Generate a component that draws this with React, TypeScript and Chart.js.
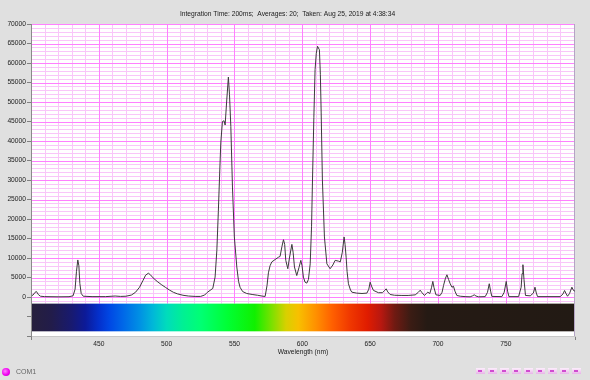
import React, { useEffect, useRef } from 'react';
import { Chart, registerables } from 'chart.js';

Chart.register(...registerables);

const titleText = 'Integration Time: 200ms;  Averages: 20;  Taken: Aug 25, 2019 at 4:38:34';
const xAxisTitle = 'Wavelength (nm)';
const portLabel = 'COM1';

const wavelengthNm = [
  400, 401.5, 403, 404, 405.5, 407, 410, 420, 428, 431, 432.5, 433.5, 434.5, 435.3, 436, 437, 438.5,
  445, 455, 462, 466, 470, 474, 477, 480, 482.5, 484.5, 486.5, 488, 490, 493, 496, 499, 502, 505, 508,
  512, 516, 521, 525, 528, 530, 532, 534, 535.7, 537, 538.1, 539, 539.9, 541.1, 542.3, 543.1, 544.2,
  545.5, 546.3, 547.3, 548.5, 549.9, 551.7, 553, 554.1, 556, 559, 563, 567, 571, 572.6, 574, 575,
  576.2, 577.5, 579.9, 582.4, 583.6, 585, 586.1, 587, 587.8, 589.3, 590.5, 592.3, 593.2, 594.2, 595.9,
  597.5, 598.9, 599.8, 600.8, 602, 603.3, 604.5, 605.8, 606.8, 607.5, 608.5, 609.4, 610.3, 611.2,
  612.6, 613.3, 613.9, 614.8, 616.3, 618.1, 620.5, 622.5, 624.2, 626.6, 628, 629.5, 630.8, 631.5,
  632.3, 633, 634, 635.5, 636.5, 640, 644, 647.6, 649, 650, 651, 652.4, 656.1, 659, 660.5, 661.8, 663,
  664.7, 668, 673.4, 678, 683.2, 685.5, 686.9, 688, 690, 691.5, 692.5, 694, 695.3, 696.2, 697, 698.5,
  701.6, 703, 704.1, 705.5, 706.6, 707.8, 709, 710.3, 711.4, 712.5, 713.9, 716.4, 720, 723.7, 725.5,
  726.7, 728, 729.9, 734.8, 736.5, 737.8, 738.8, 739.7, 747.1, 748.8, 750.3, 751.3, 752.3, 759.4,
  761.3, 762, 762.6, 763.4, 764.5, 768, 770.3, 771.5, 772.5, 773.4, 790.1, 792.2, 793.3, 794.5, 795.5,
  797, 798.7, 799.9, 801,
];

const intensityCounts = [
  300, 500, 1200, 1400, 600, 200, 100, 50, 80, 300, 2000, 6500, 9500, 8000, 3500, 900, 200,
  100, 100, 250, 150, 200, 500, 1200, 2500, 4200, 5600, 6100, 5700, 4900, 4000, 3200, 2500, 1800, 1200, 800,
  450, 250, 150, 150, 500, 1200, 1700, 2200, 5100, 12000, 22000, 31000, 39500, 45000, 45200, 44100, 50000,
  56400, 52000, 43700, 28200, 15400, 7700, 4000, 2500, 1400, 900, 650, 450, 200, 150, 3000, 6200,
  8000, 9000, 9600, 10200, 10400, 13000, 14700, 13500, 9400, 7250, 10000, 13500, 11500, 7700, 5500,
  7500, 9400, 8000, 5100, 3800, 3560, 4500, 8500, 18000, 30000, 46000, 58300, 62500, 64300,
  63400, 57000, 47200, 30000, 15400, 8500, 7250, 8200, 9400, 9200, 9000, 11500, 15400, 13500,
  10200, 6500, 3400, 1800, 1240, 1000, 900, 1000, 2000, 3800, 2800, 1700, 1100, 1100, 1600, 2100, 1300,
  650, 450, 400, 400, 550, 1200, 1750, 1200, 400, 900, 1240, 900, 2500, 4000, 2500, 560,
  400, 1200, 2960, 4800, 5700, 4500, 3400, 2500, 2780, 1500, 400, 200, 100, 50, 300,
  560, 250, 50, 100, 1200, 3400, 1500, 150, 100, 1200, 4000, 1500, 100, 100,
  2500, 6000, 8280, 4500, 400, 300, 1000, 2520, 1000, 100, 100, 800, 1670, 800, 200,
  900, 2520, 1670, 1500,
];

const xTickLabels = [450, 500, 550, 600, 650, 700, 750];
const yTickLabels = [0, 5000, 10000, 15000, 20000, 25000, 30000, 35000, 40000, 45000, 50000, 55000, 60000, 65000, 70000];

const spectrumStopsNm = [400, 415, 430, 440, 450, 458, 468, 480, 490, 500, 512, 525, 545, 565, 578, 588, 597, 610, 622, 635, 648, 658, 668, 680, 692, 801];
const spectrumStopsColor = [
  '#27203c', '#221c4a', '#181a70', '#0c1a98', '#0430cc', '#0048e4', '#0068e8', '#0090e4', '#00b8d8',
  '#00dcbc', '#00f094', '#00ff74', '#00ff34', '#10f000', '#80e000', '#d8d000', '#f8c000', '#ff9000',
  '#ff6000', '#f03800', '#e01c00', '#b81810', '#701a12', '#3a1c14', '#251a14', '#221a14',
];

const X_MIN = 400;
const X_MAX = 801;
const Y_MIN = -10000;
const Y_MAX = 70000;
const X_MINOR_STEP = 10;
const X_MAJOR_STEP = 50;
const Y_MINOR_STEP = 1000;
const Y_MAJOR_STEP = 5000;
const BAR_TOP = -1700;
const BAR_BOTTOM = -8800;

const MAJOR_GRID = '#ff80ff';
const MINOR_GRID = '#f9c6f9';
const EDGE_COLOR = '#b4a4c4';
const FONT = 'Liberation Sans';

const plotBackground = {
  id: 'plotBackground',
  beforeDraw(chart: any) {
    const { ctx, chartArea } = chart;
    ctx.save();
    ctx.fillStyle = '#ffffff';
    ctx.fillRect(chartArea.left, chartArea.top, chartArea.right - chartArea.left, chartArea.bottom - chartArea.top);
    ctx.restore();
  },
};

const gridAndSpectrum = {
  id: 'gridAndSpectrum',
  beforeDatasetsDraw(chart: any) {
    const { ctx, chartArea, scales } = chart;
    const xs = scales.x;
    const ys = scales.y;
    const left = chartArea.left;
    const right = chartArea.right;
    const width = right - left;
    ctx.save();
    ctx.lineWidth = 1;

    const drawV = (v: number, color: string) => {
      const px = Math.round(xs.getPixelForValue(v)) + 0.5;
      ctx.strokeStyle = color;
      ctx.beginPath();
      ctx.moveTo(px, chartArea.top);
      ctx.lineTo(px, chartArea.bottom);
      ctx.stroke();
    };
    const drawH = (v: number, color: string) => {
      const py = Math.round(ys.getPixelForValue(v)) + 0.5;
      ctx.strokeStyle = color;
      ctx.beginPath();
      ctx.moveTo(left, py);
      ctx.lineTo(right, py);
      ctx.stroke();
    };

    for (let v = X_MIN; v <= X_MAX; v += X_MINOR_STEP) {
      if (v % X_MAJOR_STEP !== 0) drawV(v, MINOR_GRID);
    }
    for (let v = Y_MIN; v <= Y_MAX; v += Y_MINOR_STEP) {
      if (v % Y_MAJOR_STEP !== 0) drawH(v, MINOR_GRID);
    }
    for (let v = X_MIN; v <= X_MAX; v += X_MAJOR_STEP) drawV(v, MAJOR_GRID);
    for (let v = Y_MIN; v <= Y_MAX; v += Y_MAJOR_STEP) drawH(v, MAJOR_GRID);

    const top = ys.getPixelForValue(BAR_TOP);
    const bottom = ys.getPixelForValue(BAR_BOTTOM);
    ctx.fillStyle = '#ffffff';
    ctx.fillRect(left, top, width, chartArea.bottom - top);
    const g = ctx.createLinearGradient(left, 0, right, 0);
    spectrumStopsNm.forEach((nm, i) => {
      const p = (xs.getPixelForValue(nm) - left) / width;
      g.addColorStop(Math.max(0, Math.min(1, p)), spectrumStopsColor[i]);
    });
    ctx.fillStyle = g;
    ctx.fillRect(left, top, width, bottom - top);

    const rx = Math.round(right) - 0.5;
    ctx.strokeStyle = EDGE_COLOR;
    ctx.beginPath();
    ctx.moveTo(rx, chartArea.top);
    ctx.lineTo(rx, chartArea.bottom);
    ctx.stroke();
    ctx.restore();
  },
};

export default function App() {
  const canvasRef = useRef<HTMLCanvasElement | null>(null);

  useEffect(() => {
    document.body.style.margin = '0';
    const canvas = canvasRef.current;
    if (!canvas) return;
    const points = wavelengthNm.map((x, i) => ({ x, y: intensityCounts[i] }));
    const chart = new Chart(canvas, {
      type: 'line',
      data: {
        datasets: [
          {
            data: points,
            borderColor: '#3c3c3c',
            borderWidth: 1,
            pointRadius: 0,
            tension: 0,
            fill: false,
          },
        ],
      },
      options: {
        responsive: false,
        animation: false,
        devicePixelRatio: 1,
        parsing: false as any,
        layout: { padding: { left: 0, right: 15, top: 0, bottom: 0 } },
        plugins: {
          legend: { display: false },
          tooltip: { enabled: false },
          title: {
            display: true,
            text: titleText,
            color: '#1a1a1a',
            font: { family: FONT, size: 6.7, weight: 'normal' },
            padding: { top: 10, bottom: 6 },
          },
        },
        scales: {
          x: {
            type: 'linear',
            min: X_MIN,
            max: X_MAX,
            afterFit: (s: any) => {
              s.height = 44;
            },
            ticks: {
              stepSize: X_MINOR_STEP,
              autoSkip: false,
              maxRotation: 0,
              padding: 0,
              color: '#222222',
              font: { family: FONT, size: 6.7 },
              callback: (v: any) => (xTickLabels.includes(Math.round(Number(v))) ? String(Math.round(Number(v))) : ''),
            },
            grid: {
              drawOnChartArea: false,
              tickLength: 4,
              tickColor: (c: any) => {
                const v = c.tick ? c.tick.value : 0;
                return v <= X_MIN + 0.5 || v >= X_MAX - 0.5 ? '#808080' : 'rgba(0,0,0,0)';
              },
            },
            border: { display: true, color: '#c8c8c8', z: 1 },
            title: {
              display: true,
              text: xAxisTitle,
              color: '#1a1a1a',
              font: { family: FONT, size: 6.7 },
              padding: { top: 0, bottom: 23.5 },
            },
          },
          y: {
            type: 'linear',
            min: Y_MIN,
            max: Y_MAX,
            afterFit: (s: any) => {
              s.width = 31;
            },
            ticks: {
              stepSize: Y_MINOR_STEP,
              autoSkip: false,
              padding: 1,
              color: '#222222',
              font: { family: FONT, size: 6.7 },
              callback: (v: any) => (yTickLabels.includes(Math.round(Number(v))) ? String(Math.round(Number(v))) : ''),
            },
            grid: {
              drawOnChartArea: false,
              tickLength: 4,
              tickColor: (c: any) => {
                const v = c.tick ? Math.round(c.tick.value) : 1;
                return v % Y_MAJOR_STEP === 0 ? '#808080' : 'rgba(0,0,0,0)';
              },
            },
            border: { display: true, color: '#8a8a8a', z: 1 },
          },
        },
      },
      plugins: [plotBackground, gridAndSpectrum],
    });
    return () => {
      chart.destroy();
    };
  }, []);

  const buttons = Array.from({ length: 9 }, (_, i) => i);

  return (
    <div
      style={{
        position: 'fixed',
        left: 0,
        top: 0,
        width: 590,
        height: 380,
        background: '#e0e0e0',
        overflow: 'hidden',
        fontFamily: FONT,
      }}
    >
      <canvas ref={canvasRef} width={590} height={380} style={{ display: 'block', width: 590, height: 380 }} />
      <div
        style={{
          position: 'absolute',
          left: 2,
          top: 368,
          width: 8,
          height: 8,
          borderRadius: '50%',
          background: 'radial-gradient(circle at 40% 40%, #ff7dff 0%, #f000f0 55%, #b000b0 100%)',
        }}
      />
      <div
        style={{
          position: 'absolute',
          left: 16,
          top: 367,
          fontSize: 7,
          lineHeight: '9px',
          color: '#666666',
        }}
      >
        {portLabel}
      </div>
      {buttons.map((i) => (
        <div
          key={i}
          style={{
            position: 'absolute',
            left: 476 + i * 12,
            top: 368,
            width: 9,
            height: 6,
            background: 'linear-gradient(#fdeefd, #e8b4e8)',
            boxSizing: 'border-box',
          }}
        >
          <div
            style={{
              position: 'absolute',
              left: 2,
              top: 2,
              width: 4,
              height: 2,
              background: '#d04cd0',
            }}
          />
        </div>
      ))}
    </div>
  );
}
